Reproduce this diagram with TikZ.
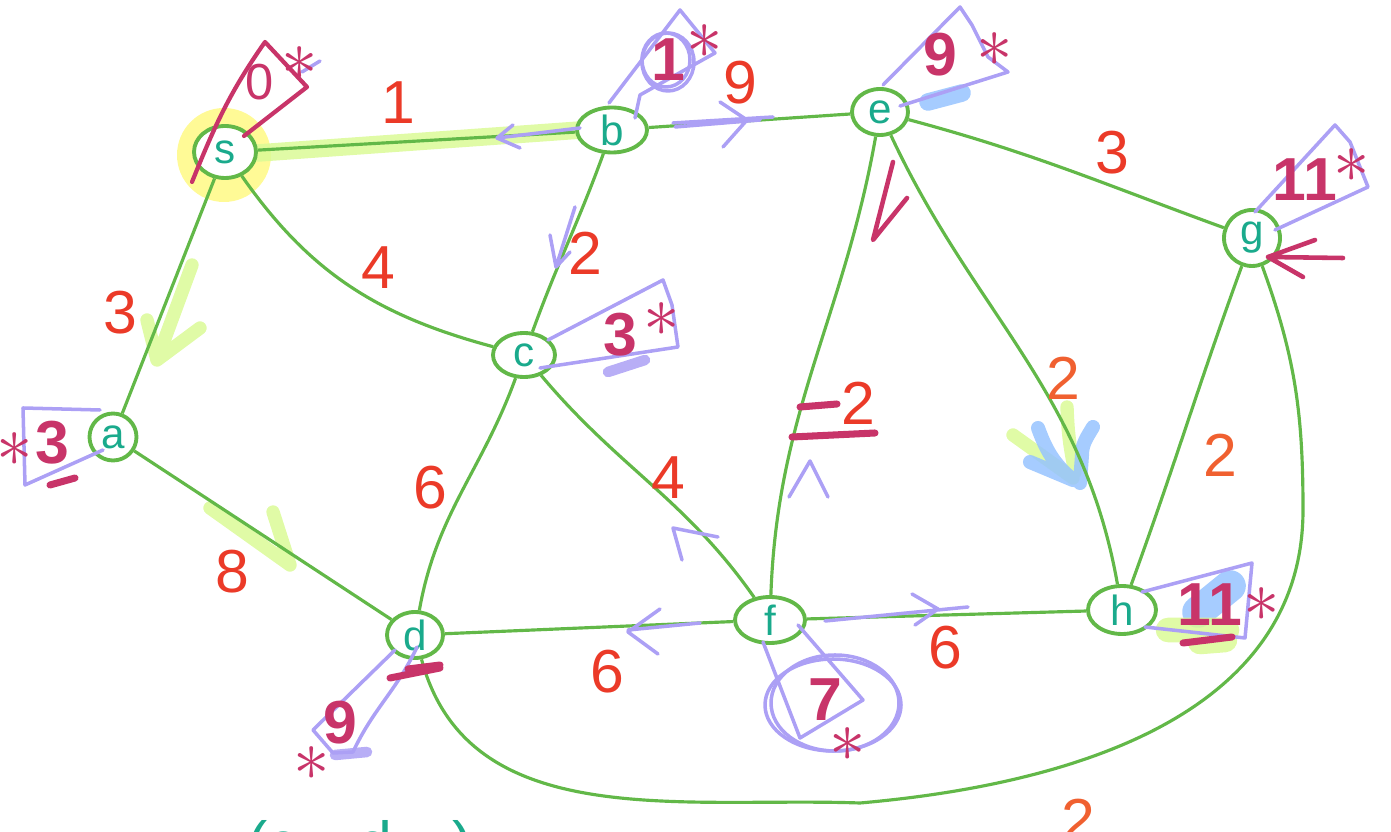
\documentclass[tikz,border=0pt]{standalone}
\usepackage{fontspec}
\setmainfont{Liberation Sans}
\usepackage{xcolor}
\usetikzlibrary{shapes.geometric}

\definecolor{edgegreen}{RGB}{98,184,72}
\definecolor{nodeteal}{RGB}{26,170,140}
\definecolor{weightred}{RGB}{235,58,40}
\definecolor{weightorange}{RGB}{240,96,48}
\definecolor{distmag}{RGB}{200,52,105}
\definecolor{lav}{RGB}{172,160,245}
\definecolor{halo}{RGB}{255,250,150}
\definecolor{hilime}{RGB}{218,250,150}
\definecolor{bluehl}{RGB}{150,195,255}

\begin{document}
\begin{tikzpicture}[
    vertex/.style={ellipse,draw=edgegreen,fill=white,line width=1.1pt,
        text=nodeteal,inner sep=0pt,font=\large},
    edge/.style={edgegreen,line width=0.9pt},
    weight/.style={font=\LARGE},
    dist/.style={text=distmag,font=\LARGE\bfseries},
    starmark/.style={text=distmag,font=\huge,inner sep=0pt},
    flag/.style={lav,line width=1pt,line join=round,line cap=round},
    hl/.style={line width=#1,line cap=round,line join=round,opacity=0.85},
]
    \useasboundingbox (0,0) rectangle (13.91,-8.32);

    % highlighter strokes
    \fill[halo] (2.24,-1.55) circle (0.47);
    \draw[hl=5pt,hilime] (2.58,-1.53) -- (5.95,-1.29);
    \draw[hl=3.8pt,hilime] (1.92,-2.65) -- (1.57,-3.60)
        (1.47,-3.20) -- (1.57,-3.60) -- (2.00,-3.28);
    \draw[hl=3.8pt,hilime] (2.10,-5.08) -- (2.90,-5.65)
        (2.73,-5.12) -- (2.90,-5.65);
    \draw[hl=3.8pt,hilime] (10.13,-4.35) -- (10.73,-4.78)
        (10.67,-4.07) to[bend right=5] (10.75,-4.72);
    \draw[hl=4pt,bluehl] (10.38,-4.28) to[out=-70,in=140] (10.73,-4.80)
        (10.93,-4.27) to[out=-120,in=90] (10.82,-4.55) -- (10.80,-4.83)
        (10.30,-4.62) -- (10.73,-4.80);
    \draw[hl=5pt,bluehl] (9.28,-1.02) -- (9.62,-0.93);
    \draw[hl=9pt,bluehl] (11.98,-6.12) -- (12.30,-5.86);
    \draw[hl=7pt,hilime] (11.68,-6.30) -- (12.27,-6.30)
        (12.00,-6.42) -- (12.25,-6.40);

    % vertices
    \foreach \name/\x/\y/\w/\h in {s/2.25/-1.52/0.62/0.52, b/6.12/-1.30/0.70/0.45,
        e/8.80/-1.12/0.56/0.46, g/12.52/-2.38/0.56/0.56, a/1.13/-4.37/0.47/0.47,
        c/5.24/-3.55/0.62/0.44, d/4.15/-6.35/0.56/0.46, f/7.70/-6.20/0.70/0.46,
        h/11.22/-6.10/0.68/0.48} {
        \node[vertex,minimum width=\w cm,minimum height=\h cm] (\name) at (\x,\y) {\name};
    }
    \coordinate (gmid) at (13.03,-5.10);
    \coordinate (gd) at (8.60,-8.03);

    % edges
    \draw[edge] (s) -- (b);
    \draw[edge] (s) -- (a);
    \draw[edge] (s) to[out=-55,in=165] (c);
    \draw[edge] (b) -- (e);
    \draw[edge] (b) to[out=-110,in=70] (c);
    \draw[edge] (e) to[out=-15,in=160] (g);
    \draw[edge] (e) to[out=-100,in=88] (f);
    \draw[edge] (e) to[out=-65,in=100] (h);
    \draw[edge] (g) to[out=-110,in=70] (h);
    \draw[edge] (a) -- (d);
    \draw[edge] (c) to[out=-110,in=80] (d);
    \draw[edge] (c) to[out=-50,in=125] (f);
    \draw[edge] (d) -- (f);
    \draw[edge] (f) -- (h);
    \draw[edge] (g) to[out=-70,in=90] (gmid) to[out=-90,in=5] (gd)
        to[out=178,in=-75] (d);

    % weights
    \foreach [count=\i] \x/\y/\t/\col in {3.98/-1.03/1/weightred, 1.20/-3.13/3/weightred,
        3.78/-2.68/4/weightred, 7.40/-0.83/9/weightred, 5.85/-2.53/2/weightred,
        11.12/-1.53/3/weightred, 8.58/-4.03/2/weightred, 10.63/-3.78/2/weightorange,
        12.20/-4.55/2/weightorange, 4.30/-4.88/6/weightred, 6.68/-4.78/4/weightred,
        2.32/-5.72/8/weightred, 6.07/-6.72/6/weightred, 9.45/-6.48/6/weightred,
        10.78/-8.20/2/weightorange} {
        \node[weight,text=\col] (w\i) at (\x,\y) {\t};
    }

    % distance flags
    \draw[distmag,line width=1.2pt,line cap=round,line join=round]
        (1.92,-1.82) to[out=68,in=-125] (2.65,-0.42) -- (3.07,-0.87) -- (2.44,-1.36);
    \draw[flag] (3.02,-0.72) -- (3.20,-0.61);
    \draw[flag] (6.09,-1.03) -- (6.80,-0.10) -- (7.15,-0.53) -- (6.40,-0.95) -- (6.35,-1.18);
    \draw[flag] (6.68,-0.62) ellipse (0.26 and 0.29);
    \draw[flag] (6.66,-0.60) ellipse (0.24 and 0.27);
    \draw[flag] (8.83,-0.85) -- (9.60,-0.07) -- (9.72,-0.25) -- (9.88,-0.57)
        -- (10.08,-0.72) -- (9.00,-1.06);
    \draw[flag] (12.55,-2.12) -- (13.35,-1.25) -- (13.50,-1.42) -- (13.68,-1.87) -- (12.75,-2.30);
    \draw[flag] (5.48,-3.40) -- (6.63,-2.80) -- (6.72,-3.05) -- (6.78,-3.47) -- (5.40,-3.68);
    \draw[hl=3pt,lav] (6.08,-3.72) -- (6.45,-3.60);
    \draw[flag] (1.00,-4.10) -- (0.23,-4.08) -- (0.25,-4.85) -- (1.03,-4.50);
    \draw[flag] (3.95,-6.50) -- (3.13,-7.30) -- (3.33,-7.53) -- (3.53,-7.52)
        to[out=65,in=-115] (4.17,-6.47);
    \draw[hl=3pt,lav] (3.35,-7.55) -- (3.67,-7.52);
    \draw[flag] (7.63,-6.42) -- (8.00,-7.38) -- (8.63,-7.00) -- (7.98,-6.25);
    \draw[flag] (8.33,-7.05) ellipse (0.68 and 0.46);
    \draw[flag] (8.35,-7.03) ellipse (0.64 and 0.48);
    \draw[flag] (11.42,-5.92) -- (12.52,-5.63) -- (12.45,-6.38) -- (11.45,-6.27);

    % magenta marks
    \draw[distmag,line width=2pt,line cap=round]
        (8.00,-4.07) -- (8.37,-4.04) (7.92,-4.37) -- (8.75,-4.33)
        (3.90,-6.78) -- (4.40,-6.68) (4.08,-6.69) -- (4.40,-6.65)
        (0.50,-4.85) -- (0.75,-4.78) (11.83,-6.43) -- (12.32,-6.37);
    \draw[distmag,line width=1.3pt,line cap=round,line join=round]
        (8.93,-1.62) -- (8.73,-2.40) -- (9.07,-1.98)
        (13.43,-2.58) -- (12.68,-2.57) (13.15,-2.40) -- (12.68,-2.57) -- (13.03,-2.77);

    % direction ticks
    \draw[flag] (5.80,-1.28) -- (4.97,-1.38) (5.13,-1.25) -- (4.97,-1.38) -- (5.20,-1.48);
    \draw[flag] (6.73,-1.23) -- (7.73,-1.17) (6.75,-1.27) -- (7.60,-1.20)
        (7.20,-1.02) -- (7.47,-1.20) -- (7.23,-1.47);
    \draw[flag] (5.75,-2.07) -- (5.56,-2.67) (5.50,-2.35) -- (5.56,-2.67) -- (5.70,-2.52);
    \draw[flag] (6.82,-5.60) -- (6.73,-5.28) -- (7.18,-5.37);
    \draw[flag] (7.89,-4.97) -- (8.10,-4.61) -- (8.28,-4.97);
    \draw[flag] (7.00,-6.23) -- (6.28,-6.30) (6.60,-6.09) -- (6.28,-6.32) -- (6.58,-6.54);
    \draw[flag] (8.25,-6.21) -- (9.68,-6.07) (9.12,-5.94) -- (9.38,-6.09) -- (9.15,-6.25);

    % distances
    \node[dist,font=\Large] (dist-s) at (2.60,-0.82) {0};
    \node[starmark] (star-s) at (3.00,-0.64) {$\ast$};
    \foreach \name/\x/\y/\t/\sx/\sy in {b/6.68/-0.60/1/7.05/-0.42,
        e/9.40/-0.55/9/9.95/-0.50, g/13.05/-1.80/11/13.52/-1.66, c/6.20/-3.35/3/6.62/-3.20,
        a/0.52/-4.43/3/0.15/-4.50, d/3.40/-7.23/9/3.12/-7.64, f/8.25/-7.00/7/8.48/-7.45,
        h/12.10/-6.05/11/12.62/-6.05} {
        \node[dist] (dist-\name) at (\x,\y) {\t};
        \node[starmark] (star-\name) at (\sx,\sy) {$\ast$};
    }

    \node[anchor=north west,text=nodeteal,font=\LARGE] (pair) at (2.35,-8.08)
        {(c\quad d\hspace{0.6cm})};
\end{tikzpicture}
\end{document}
